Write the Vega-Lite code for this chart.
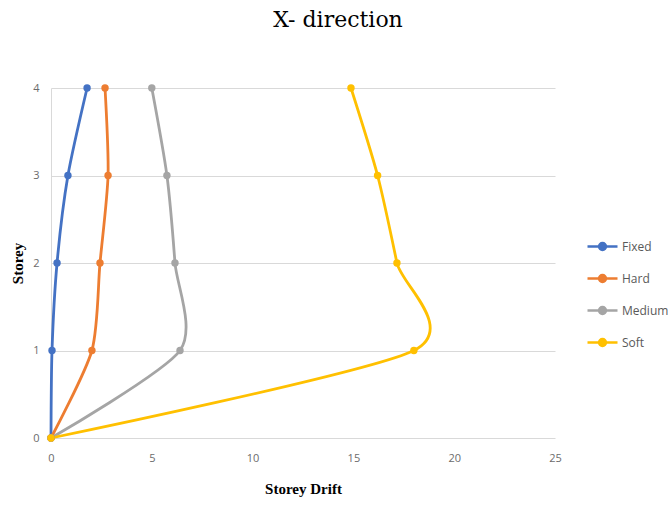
{
  "$schema": "https://vega.github.io/schema/vega-lite/v6.json",
  "autosize": {"type": "none"},
  "padding": {"left": 51, "top": 88, "right": 113, "bottom": 70},
  "width": 504,
  "height": 350,
  "background": "white",
  "title": {
    "text": "X- direction",
    "font": "DejaVu Serif",
    "fontSize": 22,
    "fontWeight": "normal",
    "color": "#000000",
    "anchor": "middle",
    "dx": 35,
    "offset": 50
  },
  "data": {
    "values": [
      {"series": "Fixed", "drift": 0, "storey": 0},
      {"series": "Fixed", "drift": 0.05, "storey": 1},
      {"series": "Fixed", "drift": 0.3, "storey": 2},
      {"series": "Fixed", "drift": 0.84, "storey": 3},
      {"series": "Fixed", "drift": 1.79, "storey": 4},
      {"series": "Hard", "drift": 0, "storey": 0},
      {"series": "Hard", "drift": 2.03, "storey": 1},
      {"series": "Hard", "drift": 2.43, "storey": 2},
      {"series": "Hard", "drift": 2.83, "storey": 3},
      {"series": "Hard", "drift": 2.68, "storey": 4},
      {"series": "Medium", "drift": 0, "storey": 0},
      {"series": "Medium", "drift": 6.4, "storey": 1},
      {"series": "Medium", "drift": 6.15, "storey": 2},
      {"series": "Medium", "drift": 5.75, "storey": 3},
      {"series": "Medium", "drift": 5.0, "storey": 4},
      {"series": "Soft", "drift": 0, "storey": 0},
      {"series": "Soft", "drift": 18.0, "storey": 1},
      {"series": "Soft", "drift": 17.16, "storey": 2},
      {"series": "Soft", "drift": 16.2, "storey": 3},
      {"series": "Soft", "drift": 14.88, "storey": 4}
    ]
  },
  "mark": {"type": "line", "interpolate": "cardinal", "tension": 0.25, "strokeWidth": 2.8, "point": {"filled": true, "size": 55}},
  "encoding": {
    "x": {
      "field": "drift", "type": "quantitative",
      "scale": {"domain": [0, 25], "nice": false},
      "axis": {
        "title": "Storey Drift", "values": [0, 5, 10, 15, 20, 25],
        "grid": false, "domain": false, "ticks": false, "labelFlush": false,
        "labelFont": "Open Sans", "labelFontSize": 11, "labelColor": "#6b6b6b", "labelPadding": 14,
        "titleFont": "Liberation Serif", "titleFontSize": 15, "titleFontWeight": "bold", "titleColor": "#000000", "titlePadding": 18
      }
    },
    "y": {
      "field": "storey", "type": "quantitative",
      "scale": {"domain": [0, 4], "nice": false},
      "axis": {
        "title": "Storey", "values": [0, 1, 2, 3, 4],
        "grid": true, "gridColor": "#d9d9d9", "gridWidth": 1,
        "domain": true, "domainColor": "#d9d9d9", "ticks": false, "labelFlush": false,
        "labelFont": "Open Sans", "labelFontSize": 11, "labelColor": "#6b6b6b", "labelPadding": 12,
        "titleFont": "Liberation Serif", "titleFontSize": 15, "titleFontWeight": "bold", "titleColor": "#000000", "titlePadding": 7
      }
    },
    "color": {
      "field": "series", "type": "nominal",
      "scale": {"domain": ["Fixed", "Hard", "Medium", "Soft"], "range": ["#4472C4", "#ED7D31", "#A5A5A5", "#FFC000"]},
      "legend": {
        "title": null, "orient": "none", "legendX": 535, "legendY": 142,
        "symbolType": "M-1,0H1M-0.23,0A0.23,0.23,0,1,1,0.23,0A0.23,0.23,0,1,1,-0.23,0Z",
        "symbolSize": 900, "symbolStrokeWidth": 2.5,
        "labelFont": "Open Sans", "labelFontSize": 12, "labelColor": "#595959", "labelOffset": 3,
        "rowPadding": 7, "padding": 0,
        "encode": {"symbols": {"update": {"fill": {"scale": "color", "field": "value"}, "stroke": {"scale": "color", "field": "value"}, "opacity": {"value": 1}}}}
      }
    },
    "order": {"field": "storey", "type": "quantitative"}
  },
  "config": {"view": {"stroke": null}}
}
